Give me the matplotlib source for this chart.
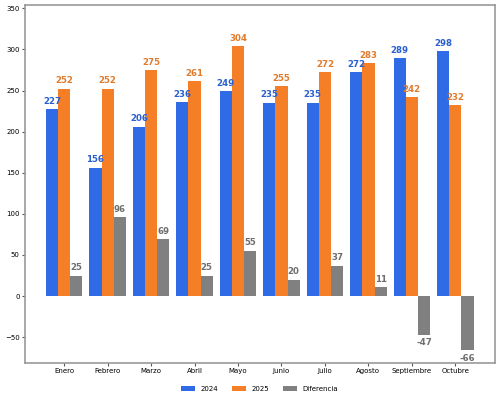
import numpy as np
import matplotlib
matplotlib.use("Agg")
import matplotlib.pyplot as plt

# Datos
meses = ["Enero", "Febrero", "Marzo", "Abril", "Mayo", "Junio",
         "Julio", "Agosto", "Septiembre", "Octubre"]
v2024 = [227, 156, 206, 236, 249, 235, 235, 272, 289, 298]
v2025 = [252, 252, 275, 261, 304, 255, 272, 283, 242, 232]
diferencia = [b - a for a, b in zip(v2024, v2025)]

c2024 = "#2f6be6"
c2025 = "#f47f26"
cdif = "#808080"

x = np.arange(len(meses))
w = 0.28

fig, ax = plt.subplots(figsize=(5, 4.01), dpi=100)
fig.subplots_adjust(left=0.049, right=0.99, bottom=0.0955, top=0.9875)

b1 = ax.bar(x - w, v2024, w, color=c2024, label="2024")
b2 = ax.bar(x, v2025, w, color=c2025, label="2025")
b3 = ax.bar(x + w, diferencia, w, color=cdif, label="Diferencia")

ax.bar_label(b1, padding=2.5, color="#2a5fd0", fontsize=6.2, fontweight="bold")
ax.bar_label(b2, padding=2.5, color="#e07a2c", fontsize=6.2, fontweight="bold")
ax.bar_label(b3, padding=2.5, color="#6e6e6e", fontsize=6.2, fontweight="bold")

ax.set_xticks(x)
ax.set_xticklabels(meses)
ax.tick_params(labelsize=5, color="#555555", length=2, pad=1.5)
ax.set_ylim(min(diferencia) - 15, max(v2025) + 50)

for s in ax.spines.values():
    s.set_color("#999999")
    s.set_linewidth(1.2)

ax.legend(loc="center", bbox_to_anchor=(0.5, -0.0735), ncol=3,
          frameon=False, fontsize=5)

fig.savefig("out.png", dpi=100)
